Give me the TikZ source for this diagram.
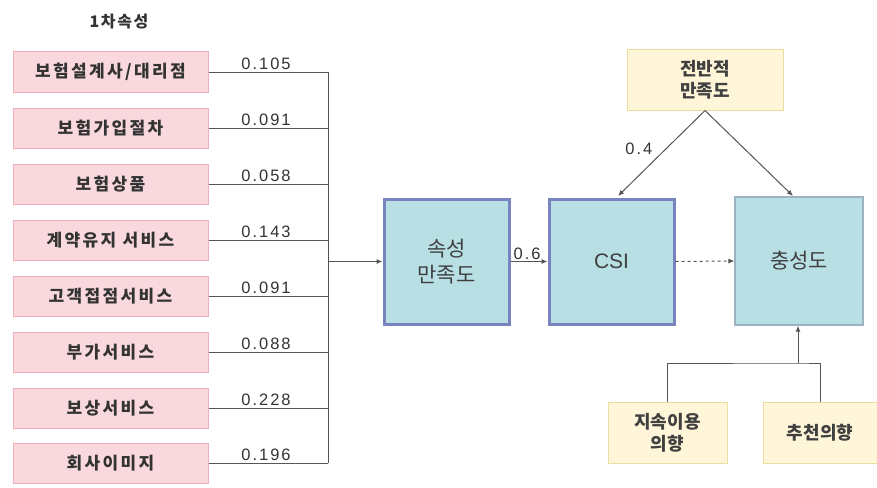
\documentclass[tikz,border=0pt]{standalone}
\usepackage{fontspec}
\setmainfont{Noto Sans CJK KR}
\newfontfamily\lat{Liberation Sans}
\newfontfamily\latsp[LetterSpace=12]{Liberation Sans}
\newfontfamily\kosp[LetterSpace=14]{Noto Sans CJK KR}
\newfontfamily\kotitle[LetterSpace=10]{Noto Sans CJK KR}
\usetikzlibrary{arrows.meta}
\definecolor{pinkfill}{HTML}{F9D9DE}
\definecolor{pinkdraw}{HTML}{EBB0B8}
\definecolor{cyanfill}{HTML}{B8DFE4}
\definecolor{bluedraw}{HTML}{7784C0}
\definecolor{greydraw}{HTML}{9DB3C2}
\definecolor{yelfill}{HTML}{FFF5D8}
\definecolor{yeldraw}{HTML}{EDDCA0}
\definecolor{linec}{HTML}{555555}
\begin{document}
\begin{tikzpicture}[x=1pt,y=-1pt,
  attrbox/.style={draw=pinkdraw,fill=pinkfill,line width=1pt,minimum width=195pt,minimum height=40pt,inner sep=0pt,font=\kosp\fontsize{17}{19}\selectfont\bfseries,text=black!80},
  bigbox/.style={draw=bluedraw,fill=cyanfill,line width=3pt,minimum width=125pt,minimum height=125pt,inner sep=0pt,font=\fontsize{21}{26}\selectfont,text=black!75,align=center},
  plainbig/.style={draw=greydraw,fill=cyanfill,line width=1.2pt,minimum width=128pt,minimum height=128pt,inner sep=0pt,font=\fontsize{21}{26}\selectfont,text=black!75,align=center},
  yelbox/.style={draw=yeldraw,fill=yelfill,line width=1pt,inner sep=0pt,font=\fontsize{18}{22}\selectfont\bfseries,text=black!75,align=center},
  conn/.style={draw=linec,line width=1pt},
  arr/.style={conn,-{Latex[length=6pt,width=5pt]}},
  wlabel/.style={font=\latsp\fontsize{16.5}{18}\selectfont,text=black!80,inner sep=1pt}
]
\useasboundingbox (0,0) rectangle (877,487);
\node[font=\kotitle\fontsize{16}{18}\selectfont\bfseries,text=black!80] (title) at (119,22) {1차속성};

\node[attrbox] (p1) at (110.5,72) {보험설계사/대리점};
\node[attrbox] (p2) at (110.5,128) {보험가입절차};
\node[attrbox] (p3) at (110.5,184) {보험상품};
\node[attrbox] (p4) at (110.5,240) {계약유지 서비스};
\node[attrbox] (p5) at (110.5,296) {고객접점서비스};
\node[attrbox] (p6) at (110.5,352) {부가서비스};
\node[attrbox] (p7) at (110.5,408) {보상서비스};
\node[attrbox] (p8) at (110.5,463) {회사이미지};

\coordinate (bus) at (328,0);
\foreach \i/\v in {1/0.105,2/0.091,3/0.058,4/0.143,5/0.091,6/0.088,7/0.228,8/0.196}{
  \draw[conn] (p\i.east) -- (p\i.east -| bus);
  \node[wlabel,anchor=south] (w\i) at (266,0 |- p\i.east) [yshift=1pt] {\v};
}
\draw[conn] (p1.east -| bus) -- (p8.east -| bus);

\node[bigbox] (attr) at (446.5,261.5) {속성\\만족도};
\node[bigbox] (csi) at (611.5,261.5) {\lat CSI};
\node[plainbig] (loyal) at (799,261) {충성도};
\node[yelbox,minimum width=156pt,minimum height=60pt] (overall) at (705,80) {전반적\\만족도};
\node[yelbox,minimum width=119pt,minimum height=61pt] (cont) at (667.5,432.5) {지속이용\\의향};
\node[yelbox,minimum width=114pt,minimum height=61pt] (rec) at (820,432.5) {추천의향};

\draw[arr] (bus |- attr.west) -- (attr.west);
\draw[arr] (attr.east) -- node[wlabel,above,pos=0.45] (w6l) {0.6} (csi.west);
\draw[arr,dashed] (csi.east) -- (loyal.west);
\draw[arr] (overall.south) -- node[wlabel,pos=0.45,left=12pt] (w4l) {0.4} (618,196);
\draw[arr] (overall.south) -- (793,196);

\coordinate (jn) at (798,363);
\draw[conn] (cont.north) |- (jn) -| (rec.north);
\draw[arr] (jn) -- (loyal.south -| jn);
\end{tikzpicture}
\end{document}
